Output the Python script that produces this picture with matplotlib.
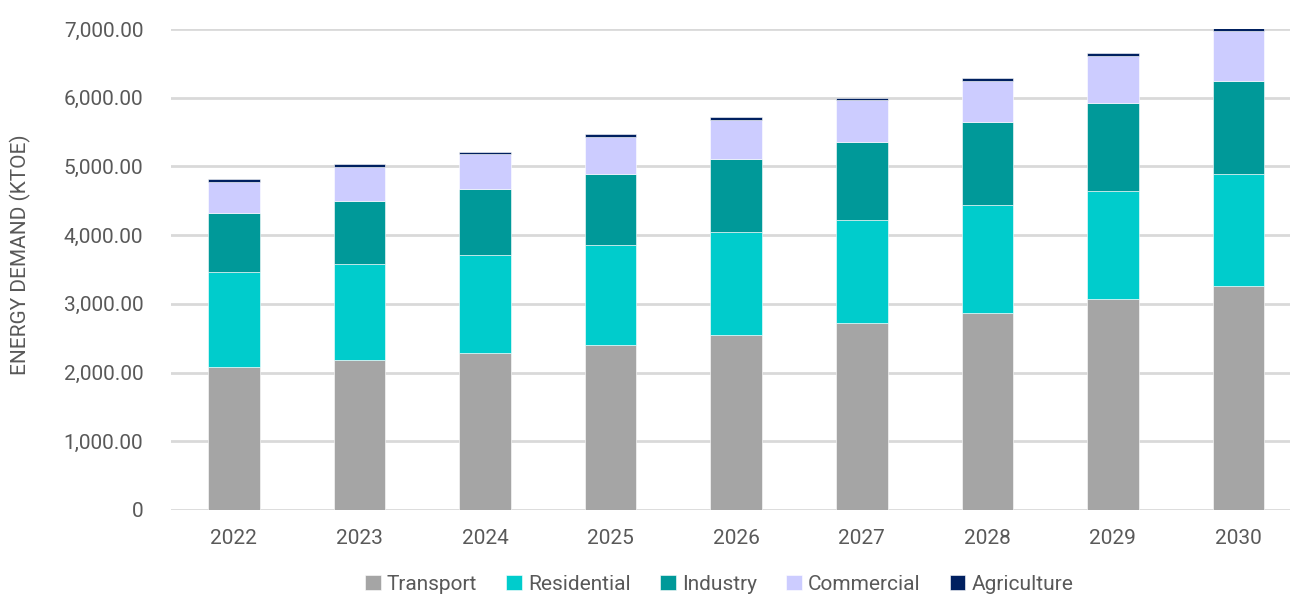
import numpy as np
import matplotlib.pyplot as plt

plt.rcParams['font.family'] = ['Roboto', 'DejaVu Sans']

years = ['2022', '2023', '2024', '2025', '2026', '2027', '2028', '2029', '2030']
transport = [2077, 2183, 2290, 2402, 2543, 2722, 2863, 3071, 3256]
residential = [1387, 1398, 1426, 1455, 1499, 1499, 1572, 1572, 1639]
industry = [855, 917, 956, 1034, 1063, 1136, 1208, 1281, 1350]
commercial = [460, 499, 505, 538, 576, 606, 606, 684, 727]
agriculture = [39, 39, 40, 44, 35, 39, 39, 39, 41]

series = [('Transport', transport, '#a5a5a5'),
          ('Residential', residential, '#00cccc'),
          ('Industry', industry, '#009999'),
          ('Commercial', commercial, '#ccccff'),
          ('Agriculture', agriculture, '#002060')]

fig = plt.figure(figsize=(12.9, 5.96), dpi=100)
ax = fig.add_axes([0.1326, 0.1443, 0.8674, 0.807])

x = np.arange(len(years))
bottom = np.zeros(len(years))
for name, vals, col in series:
    ax.bar(x, vals, 0.41, bottom=bottom, color=col, label=name,
           edgecolor='white', linewidth=0.4, zorder=3)
    bottom += np.array(vals)

ax.set_ylim(0, 7000)
ax.set_xlim(-0.5, 8.41)
ax.set_yticks(range(0, 7001, 1000))
ax.set_yticklabels(['0'] + ['{:,.2f}'.format(v) for v in range(1000, 7001, 1000)])
ax.set_xticks(x)
ax.set_xticklabels(years)
ax.grid(axis='y', color='#d9d9d9', linewidth=2, zorder=0)
for s in ax.spines.values():
    s.set_visible(False)
ax.tick_params(length=0, labelsize=15, colors='#595959', pad=20)
ax.tick_params(axis='x', pad=14)
ax.set_ylabel('ENERGY DEMAND (KTOE)', fontsize=15, color='#595959')
ax.yaxis.set_label_coords(-0.125, 0.53)

ax.legend(loc='lower center', bbox_to_anchor=(0.49, -0.2), ncol=5, frameon=False,
          fontsize=15, labelcolor='#595959', handlelength=0.75, handleheight=0.75,
          handletextpad=0.3, columnspacing=1.4, borderpad=0.1)

fig.savefig('out.png', dpi=100)
